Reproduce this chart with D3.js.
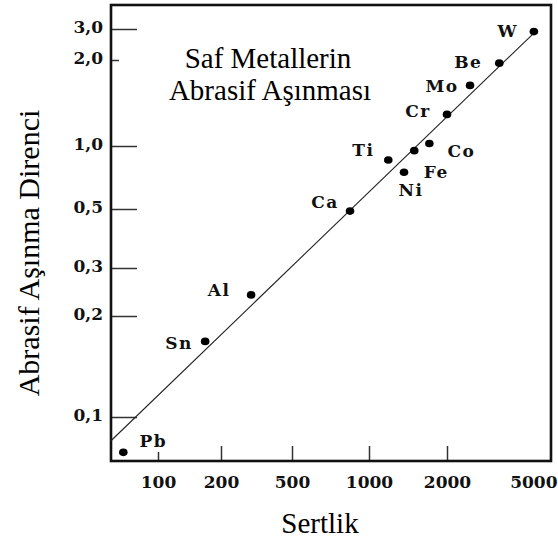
<!DOCTYPE html>
<meta charset="utf-8">
<style>

body {
  margin: 0;
  background: #fff;
}

.tick line {
  stroke: #333;
  stroke-width: 1.5px;
}

.tick text, .metal {
  font-family: "DejaVu Serif", serif;
  font-weight: bold;
  font-size: 17px;
  fill: #111;
}

.metal {
  letter-spacing: 1.5px;
}

.big {
  font-family: "Liberation Serif", "Times New Roman", serif;
  font-size: 29px;
  fill: #000;
}

</style>
<svg width="558" height="540"></svg>
<script src="https://d3js.org/d3.v7.min.js"></script>
<script>

// Hardness (x) and abrasive wear resistance (y).
var metals = ["W", "Be", "Mo", "Cr", "Co", "Fe", "Ti", "Ni", "Ca", "Al", "Sn", "Pb"];
var hardness = [4300, 3170, 2450, 2000, 1710, 1495, 1187, 1365, 843, 295, 168, 68];
var resistance = [2.90, 1.95, 1.63, 1.29, 1.02, 0.95, 0.857, 0.749, 0.491, 0.239, 0.168, 0.0785];

// Straight fit line through the points (end points in data units).
var fitX = [59.3, 4420];
var fitY = [0.085, 2.96];

var xTicks = [100, 200, 500, 1000, 2000, 5000];
var yTicks = [0.1, 0.2, 0.3, 0.5, 1, 2, 3];

// where each name sits relative to its dot
var labelOffset = {
  W: [-26, -1], Be: [-31, -1], Mo: [-28, 0], Cr: [-29, -4],
  Co: [32, 7], Fe: [22, 21], Ti: [-25, -10], Ni: [7, 18],
  Ca: [-25, -9], Al: [-32, -5], Sn: [-26, 1], Pb: [30, -11]
};

var svg = d3.select("svg");

var plotLeft = 111, plotRight = 551, plotTop = 5, plotBottom = 461;

// The original grid is hand drawn, so the log axes are piecewise.
var x = d3.scaleLog()
    .domain([59.3, 100, 200, 500, 1000, 2000, 5000])
    .range([plotLeft, 158, 221, 292, 369, 447, plotRight]);

var y = d3.scaleLog()
    .domain([0.074, 0.1, 0.2, 0.3, 0.5, 1, 2, 3, 4.1])
    .range([plotBottom, 417, 316, 268, 209, 146, 60, 29, plotTop]);

var xAxis = svg.append("g")
    .attr("transform", "translate(0," + plotBottom + ")")
    .call(d3.axisBottom(x)
        .tickValues(xTicks)
        .tickFormat(d3.format("d"))
        .tickSizeInner(-15)
        .tickSizeOuter(0)
        .tickPadding(15));

xAxis.select(".domain").remove();
xAxis.selectAll(".tick").filter(function(d) { return d === 100; })
    .select("line").attr("y2", -9);
xAxis.selectAll(".tick").filter(function(d) { return d === 5000; })
    .call(function(t) {
      t.select("line").remove();
      t.select("text").attr("text-anchor", "end").attr("dx", 6);
    });

var yAxis = svg.append("g")
    .attr("transform", "translate(" + plotLeft + ",0)")
    .call(d3.axisLeft(y)
        .tickValues(yTicks)
        .tickFormat(function(d) { return d3.format(".1f")(d).replace(".", ","); })
        .tickSizeInner(-26)
        .tickSizeOuter(0)
        .tickPadding(8));

yAxis.select(".domain").remove();
yAxis.selectAll(".tick").filter(function(d) { return d === 2; })
    .select("line").attr("x2", 8);
yAxis.selectAll(".tick text").attr("dy", "0.22em");

// frame
svg.append("rect")
    .attr("x", plotLeft)
    .attr("y", plotTop)
    .attr("width", plotRight - plotLeft)
    .attr("height", plotBottom - plotTop)
    .attr("fill", "none")
    .attr("stroke", "#111")
    .attr("stroke-width", 2.6);

// fit line
svg.append("path")
    .datum(d3.zip(fitX, fitY))
    .attr("fill", "none")
    .attr("stroke", "#222")
    .attr("stroke-width", 1.1)
    .attr("d", d3.line()
        .x(function(d) { return x(d[0]); })
        .y(function(d) { return y(d[1]); }));

var pts = metals.map(function(m, i) {
  return {name: m, h: hardness[i], r: resistance[i]};
});

svg.append("g").selectAll("ellipse")
    .data(pts)
  .enter().append("ellipse")
    .attr("cx", function(d) { return x(d.h); })
    .attr("cy", function(d) { return y(d.r); })
    .attr("rx", 4.3)
    .attr("ry", 3.8)
    .attr("fill", "#000");

svg.append("g").selectAll("text")
    .data(pts)
  .enter().append("text")
    .attr("class", "metal")
    .attr("text-anchor", "middle")
    .attr("x", function(d) { return x(d.h) + labelOffset[d.name][0]; })
    .attr("y", function(d) { return y(d.r) + labelOffset[d.name][1]; })
    .attr("dy", "0.36em")
    .text(function(d) { return d.name; });

// title
var title = svg.append("text")
    .attr("class", "big")
    .attr("text-anchor", "middle")
    .attr("x", 268)
    .attr("y", 68);
title.append("tspan").attr("x", 268).text("Saf Metallerin");
title.append("tspan").attr("x", 270).attr("dy", 32).text("Abrasif Aşınması");

// axis titles
svg.append("text")
    .attr("class", "big")
    .attr("text-anchor", "middle")
    .attr("x", 320)
    .attr("y", 533)
    .text("Sertlik");

svg.append("text")
    .attr("class", "big")
    .attr("text-anchor", "middle")
    .style("font-size", "30px")
    .attr("transform", "translate(39,253) rotate(-90)")
    .text("Abrasif Aşınma Direnci");

</script>
